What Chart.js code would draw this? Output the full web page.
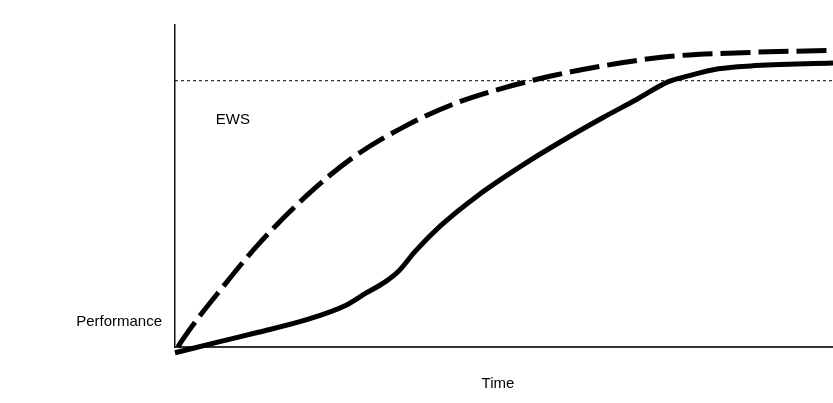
<!DOCTYPE html>
<html>
<head>
<meta charset="utf-8">
<script src="https://cdn.jsdelivr.net/npm/chart.js@4.4.1/dist/chart.umd.min.js"></script>
<style>
  html, body { margin: 0; padding: 0; background: #fff; }
  #wrap { width: 833px; height: 403px; position: relative; }
</style>
</head>
<body>
<div id="wrap"><canvas id="c"></canvas></div>
<script>
// time runs 0..100 along the x axis, performance 0..100 up the y axis
const ewsLevel = 82.7;
const ewsLabel = 'EWS';
const xTitle = 'Time';
const yTitle = 'Performance';

const dashedX = [0.45, 0.9, 3.9, 6.5, 12.5, 20, 27, 35, 42.5, 50, 57.5, 65, 75, 87.5, 100];
const dashedY = [0, 1.5, 10, 16.7, 31.5, 47, 58.8, 68.6, 75.6, 80.5, 84.3, 87.3, 90.2, 91.5, 92.1];

const solidX = [0, 6.5, 12.5, 20, 26, 29, 32, 34, 36.5, 40.5, 46, 53, 59, 65, 70, 75, 78, 82.6, 87.5, 100];
const solidY = [-1.8, 1.5, 4.5, 8.5, 13, 16.7, 20.3, 23.6, 29.7, 37.9, 47, 56.7, 64.2, 71.2, 76.7, 82.4, 84.2, 86.4, 87.3, 88.2];

const toPoints = (xs, ys) => xs.map((x, i) => ({ x: x, y: ys[i] }));

const textPlugin = {
  id: 'textLabels',
  afterDraw(chart) {
    const { ctx, chartArea, scales } = chart;
    ctx.save();
    ctx.fillStyle = '#000';
    ctx.font = '15px "Liberation Sans", Arial, sans-serif';
    ctx.textBaseline = 'middle';
    ctx.textAlign = 'left';
    ctx.fillText(ewsLabel, scales.x.getPixelForValue(6.2), scales.y.getPixelForValue(70.6));
    ctx.textAlign = 'right';
    ctx.fillText(yTitle, chartArea.left - 13, chartArea.bottom - 25);
    ctx.textAlign = 'center';
    ctx.fillText(xTitle, 498, chartArea.bottom + 37);
    ctx.restore();
  }
};

new Chart(document.getElementById('c'), {
  type: 'line',
  data: {
    datasets: [
      {
        data: [{ x: 0, y: ewsLevel }, { x: 100, y: ewsLevel }],
        borderColor: '#000',
        borderWidth: 1,
        borderDash: [3, 3],
        pointRadius: 0,
        tension: 0
      },
      {
        data: toPoints(dashedX, dashedY),
        borderColor: '#000',
        borderWidth: 5,
        borderDash: [30, 8],
        pointRadius: 0,
        cubicInterpolationMode: 'monotone'
      },
      {
        data: toPoints(solidX, solidY),
        borderColor: '#000',
        borderWidth: 5,
        pointRadius: 0,
        cubicInterpolationMode: 'monotone'
      }
    ]
  },
  options: {
    responsive: true,
    maintainAspectRatio: false,
    animation: false,
    layout: { padding: { left: 167, right: 0, top: 25, bottom: 48 } },
    plugins: { legend: { display: false }, tooltip: { enabled: false } },
    scales: {
      x: {
        type: 'linear', min: 0, max: 100,
        grid: { display: false },
        ticks: { display: false },
        border: { display: true, color: '#333', width: 2 }
      },
      y: {
        min: 0, max: 100,
        grid: { display: false },
        ticks: { display: false },
        border: { display: true, color: '#111', width: 1.5 }
      }
    },
    clip: false
  },
  plugins: [textPlugin]
});
</script>
</body>
</html>
